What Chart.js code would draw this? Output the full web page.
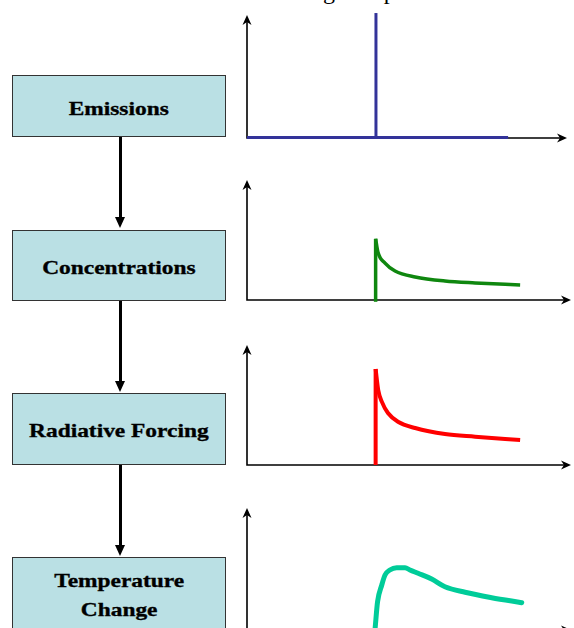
<!DOCTYPE html>
<html>
<head>
<meta charset="utf-8">
<title>Emissions to temperature change</title>
<script src="https://cdn.jsdelivr.net/npm/chart.js@4.4.1/dist/chart.umd.min.js"></script>
<style>
  body { margin: 0; width: 574px; height: 628px; overflow: hidden; background: #fff; position: relative;
         font-family: "Liberation Serif", "Times New Roman", serif; }
  .title { position: absolute; left: 235px; top: -21px; font-size: 24px; line-height: 24px; white-space: nowrap; color: #000; }
  .box { position: absolute; left: 12px; width: 214px; box-sizing: border-box; background: #bae0e4;
         border: 1px solid #333; display: flex; align-items: center; justify-content: center;
         padding-top: 3px; font-weight: bold; font-size: 19.5px; color: #000; text-align: center;
         -webkit-text-stroke: 0.35px #000; }
  .box span { display: inline-block; transform: scaleX(1.2); line-height: 29px; }
  .stem { position: absolute; left: 118.5px; width: 3px; background: #000; }
  .head { position: absolute; left: 114.5px; width: 0; height: 0;
          border-left: 5.5px solid transparent; border-right: 5.5px solid transparent; border-top: 11px solid #000; }
  .panel { position: absolute; left: 230px; width: 344px; height: 150px; }
</style>
</head>
<body>
<div class="title">Modelling of a pulse emission</div>

<div class="box" style="top:75px;height:62px;padding-top:5px"><span>Emissions</span></div>
<div class="box" style="top:230px;height:71px"><span>Concentrations</span></div>
<div class="box" style="top:393px;height:72px"><span>Radiative Forcing</span></div>
<div class="box" style="top:557px;height:90px;align-items:flex-start;padding-top:8px"><span>Temperature<br>Change</span></div>

<div class="stem" style="top:137px;height:82px"></div><div class="head" style="top:217px"></div>
<div class="stem" style="top:301px;height:82px"></div><div class="head" style="top:381px"></div>
<div class="stem" style="top:465px;height:82px"></div><div class="head" style="top:545px"></div>

<div class="panel" style="top:0px;height:160px"><canvas id="emisChart" width="344" height="160"></canvas></div>
<div class="panel" style="top:165px"><canvas id="concChart" width="344" height="150"></canvas></div>
<div class="panel" style="top:330px"><canvas id="rfChart" width="344" height="150"></canvas></div>
<div class="panel" style="top:493px"><canvas id="tempChart" width="344" height="150"></canvas></div>

<script>
// time runs 0..100 on every panel, the pulse is released at ~40
var emisTimes = [0, 40.3, 81.6];
var emisValues = [0.005, 0.005, 0.005];
var emisPulseTime = 40.3;
var emisPulseTop = 1.016;

var concTimes = [39.7, 40.4, 42.6, 45.7, 51.9, 61.1, 70.4, 84.3];
var concValues = [0.51, 0.40, 0.308, 0.242, 0.192, 0.158, 0.142, 0.125];

var rfTimes = [39.7, 40.5, 41.6, 43.5, 46.6, 51.9, 61.1, 70.4, 84.3];
var rfValues = [0.80, 0.625, 0.528, 0.433, 0.36, 0.308, 0.258, 0.236, 0.208];

var tempTimes = [39.5, 40.3, 41.6, 42.6, 44.1, 46.2, 48.8, 50.3, 52.8, 57.0, 61.1, 67.3, 75.5, 84.8];
var tempValues = [0, 0.232, 0.369, 0.451, 0.492, 0.511, 0.511, 0.492, 0.465, 0.418, 0.355, 0.309, 0.265, 0.224];

function toPoints(xs, ys) {
  return xs.map(function (x, i) { return { x: x, y: ys[i] }; });
}

function arrowHead(ctx, x, y, dir) {
  ctx.save();
  ctx.translate(x, y);
  if (dir === "right") ctx.rotate(Math.PI / 2);
  ctx.beginPath();
  ctx.moveTo(0, 0);
  ctx.lineTo(4.5, 10);
  ctx.lineTo(0, 7);
  ctx.lineTo(-4.5, 10);
  ctx.closePath();
  ctx.fill();
  ctx.restore();
}

// plain axes with arrow heads, drawn under the data
var axisArrows = {
  id: "axisArrows",
  beforeDatasetsDraw: function (chart) {
    var ctx = chart.ctx, a = chart.chartArea;
    ctx.save();
    ctx.strokeStyle = "#000";
    ctx.fillStyle = "#000";
    ctx.lineWidth = 1.6;
    ctx.beginPath();
    ctx.moveTo(a.left, a.top + 5);
    ctx.lineTo(a.left, a.bottom);
    ctx.lineTo(a.right - 5, a.bottom);
    ctx.stroke();
    arrowHead(ctx, a.left, a.top, "up");
    arrowHead(ctx, a.right, a.bottom, "right");
    ctx.restore();
  }
};

function makePanel(id, datasets, padding) {
  var ctx = document.getElementById(id);
  var old = Chart.getChart(id);
  if (old != undefined) old.destroy();
  return new Chart(ctx, {
    type: "line",
    data: { datasets: datasets },
    options: {
      responsive: false,
      animation: false,
      clip: false,
      layout: { padding: padding },
      elements: { point: { radius: 0 } },
      scales: {
        x: { type: "linear", min: 0, max: 100, display: false },
        y: { min: 0, max: 1, display: false }
      },
      plugins: { legend: { display: false }, tooltip: { enabled: false } }
    },
    plugins: [axisArrows]
  });
}

makePanel("emisChart", [
  { data: toPoints(emisTimes, emisValues), borderColor: "#333399", borderWidth: 3, tension: 0 },
  { data: [{ x: emisPulseTime, y: 0 }, { x: emisPulseTime, y: emisPulseTop }], borderColor: "#333399", borderWidth: 3 }
], { left: 17, right: 7, top: 15, bottom: 22 });

makePanel("concChart", [
  { data: [{ x: concTimes[0], y: -0.015 }, { x: concTimes[0], y: concValues[0] }], borderColor: "#0f870f", borderWidth: 3.5 },
  { data: toPoints(concTimes, concValues), borderColor: "#0f870f", borderWidth: 3.5, cubicInterpolationMode: "monotone" }
], { left: 17, right: 3, top: 15, bottom: 15 });

makePanel("rfChart", [
  { data: [{ x: rfTimes[0], y: 0 }, { x: rfTimes[0], y: rfValues[0] }], borderColor: "#ff0000", borderWidth: 4 },
  { data: toPoints(rfTimes, rfValues), borderColor: "#ff0000", borderWidth: 4, cubicInterpolationMode: "monotone" }
], { left: 17, right: 3, top: 15, bottom: 15 });

makePanel("tempChart", [
  { data: toPoints(tempTimes, tempValues), borderColor: "#00cc99", borderWidth: 5, borderCapStyle: "round",
    cubicInterpolationMode: "monotone" }
], { left: 17, right: 3, top: 15, bottom: 13 });
</script>
</body>
</html>
